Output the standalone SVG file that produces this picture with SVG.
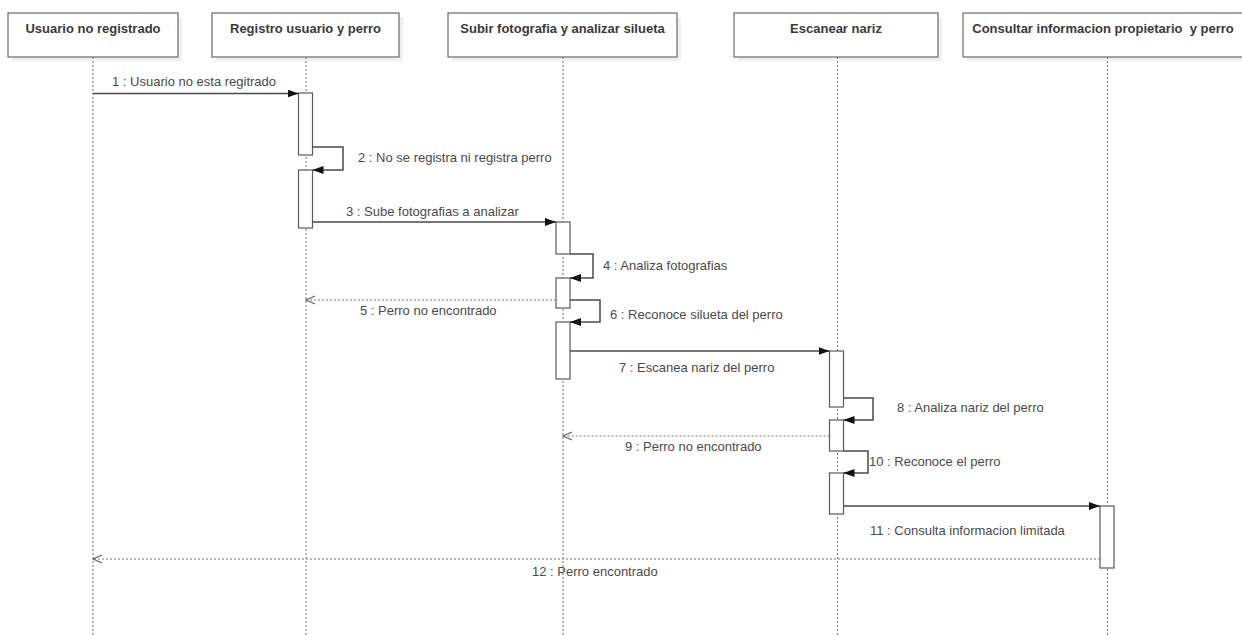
<svg xmlns="http://www.w3.org/2000/svg" width="1242" height="635" viewBox="0 0 1242 635">
  <style>
    .head { fill: #ffffff; stroke: #6a6a6a; stroke-width: 1.2; }
    .shadow { fill: #000000; opacity: 0.06; }
    .title { font-family: "Liberation Sans", Arial, sans-serif; font-size: 13px; font-weight: bold; fill: #3a3a3a; text-anchor: middle; white-space: pre; }
    .life { stroke: #6f6f6f; stroke-width: 1; stroke-dasharray: 2 2; fill: none; }
    .act { fill: #ffffff; stroke: #5a5a5a; stroke-width: 1.2; }
    .msg { stroke: #4a4a4a; stroke-width: 1.5; fill: none; marker-end: url(#solid); }
    .ret { stroke: #7a7a7a; stroke-width: 1.2; stroke-dasharray: 2 2; fill: none; marker-end: url(#open); }
    .lbl { font-family: "Liberation Sans", Arial, sans-serif; font-size: 13px; fill: #4a4a4a; }
  </style>
  <defs>
    <marker id="solid" viewBox="0 0 11 8" refX="11" refY="4" markerWidth="11" markerHeight="8" markerUnits="userSpaceOnUse" orient="auto">
      <path d="M0,0 L11,4 L0,8 Z" fill="#111111"/>
    </marker>
    <marker id="open" viewBox="0 0 10 10" refX="9" refY="5" markerWidth="10" markerHeight="10" markerUnits="userSpaceOnUse" orient="auto">
      <path d="M0,1 L9,5 L0,9" fill="none" stroke="#6a6a6a" stroke-width="1.3"/>
    </marker>
  </defs>
  <rect width="1242" height="635" fill="#ffffff"/>

  <!-- participant: Usuario no registrado -->
  <g id="usuario">
    <rect class="shadow" x="12" y="17" width="170" height="44"/>
    <rect class="head" x="8" y="13" width="170" height="44"/>
    <text class="title" x="93" y="33">Usuario no registrado</text>
    <line class="life" x1="93" y1="57" x2="93" y2="635"/>
  </g>

  <!-- participant: Registro usuario y perro -->
  <g id="registro">
    <rect class="shadow" x="216" y="17" width="187" height="44"/>
    <rect class="head" x="212" y="13" width="187" height="44"/>
    <text class="title" x="305.5" y="33">Registro usuario y perro</text>
    <line class="life" x1="306" y1="57" x2="306" y2="635"/>
    <rect class="act" x="298.5" y="93" width="14" height="62"/>
    <rect class="act" x="298.5" y="170" width="14" height="58"/>
  </g>

  <!-- participant: Subir fotografia y analizar silueta -->
  <g id="subir">
    <rect class="shadow" x="452" y="17" width="229" height="44"/>
    <rect class="head" x="448" y="13" width="229" height="44"/>
    <text class="title" x="562.5" y="33">Subir fotografia y analizar silueta</text>
    <line class="life" x1="563" y1="57" x2="563" y2="635"/>
    <rect class="act" x="556" y="222" width="14" height="32"/>
    <rect class="act" x="556" y="278" width="14" height="30"/>
    <rect class="act" x="556" y="322" width="14" height="57"/>
  </g>

  <!-- participant: Escanear nariz -->
  <g id="escanear">
    <rect class="shadow" x="738" y="17" width="204" height="44"/>
    <rect class="head" x="734" y="13" width="204" height="44"/>
    <text class="title" x="836" y="33">Escanear nariz</text>
    <line class="life" x1="837.5" y1="57" x2="837.5" y2="635"/>
    <rect class="act" x="829.5" y="351" width="14" height="56"/>
    <rect class="act" x="829.5" y="420" width="14" height="31"/>
    <rect class="act" x="829.5" y="473" width="14" height="41"/>
  </g>

  <!-- participant: Consultar informacion propietario y perro -->
  <g id="consultar">
    <rect class="shadow" x="967" y="17" width="290" height="44"/>
    <rect class="head" x="963" y="13" width="290" height="44"/>
    <text class="title" x="1103" y="33">Consultar informacion propietario  y perro</text>
    <line class="life" x1="1107.5" y1="57" x2="1107.5" y2="635"/>
    <rect class="act" x="1100" y="506" width="14" height="62"/>
  </g>

  <!-- messages -->
  <g id="connectors">
    <line class="msg" x1="93" y1="93.5" x2="298.5" y2="93.5"/>
    <text class="lbl" x="112" y="86">1 : Usuario no esta regitrado</text>

    <polyline class="msg" points="312.5,147 343,147 343,170 312.5,170"/>
    <text class="lbl" x="358" y="162">2 : No se registra ni registra perro</text>

    <line class="msg" x1="312.5" y1="222" x2="556" y2="222"/>
    <text class="lbl" x="346" y="216">3 : Sube fotografias a analizar</text>

    <polyline class="msg" points="570,254 593,254 593,278 570,278"/>
    <text class="lbl" x="603" y="270">4 : Analiza fotografias</text>

    <line class="ret" x1="556" y1="300" x2="306" y2="300"/>
    <text class="lbl" x="360" y="315">5 : Perro no encontrado</text>

    <polyline class="msg" points="570,300 600,300 600,322 570,322"/>
    <text class="lbl" x="610" y="319">6 : Reconoce silueta del perro</text>

    <line class="msg" x1="570" y1="351" x2="829.5" y2="351"/>
    <text class="lbl" x="619" y="372">7 : Escanea nariz del perro</text>

    <polyline class="msg" points="843.5,398 873,398 873,420 843.5,420"/>
    <text class="lbl" x="897" y="412">8 : Analiza nariz del perro</text>

    <line class="ret" x1="829.5" y1="436" x2="563" y2="436"/>
    <text class="lbl" x="625" y="451">9 : Perro no encontrado</text>

    <polyline class="msg" points="843.5,451 868,451 868,473 843.5,473"/>
    <text class="lbl" x="869" y="466">10 : Reconoce el perro</text>

    <line class="msg" x1="843.5" y1="506" x2="1100" y2="506"/>
    <text class="lbl" x="870" y="535">11 : Consulta informacion limitada</text>

    <line class="ret" x1="1100" y1="559" x2="93" y2="559"/>
    <text class="lbl" x="532" y="576">12 : Perro encontrado</text>
  </g>
</svg>
